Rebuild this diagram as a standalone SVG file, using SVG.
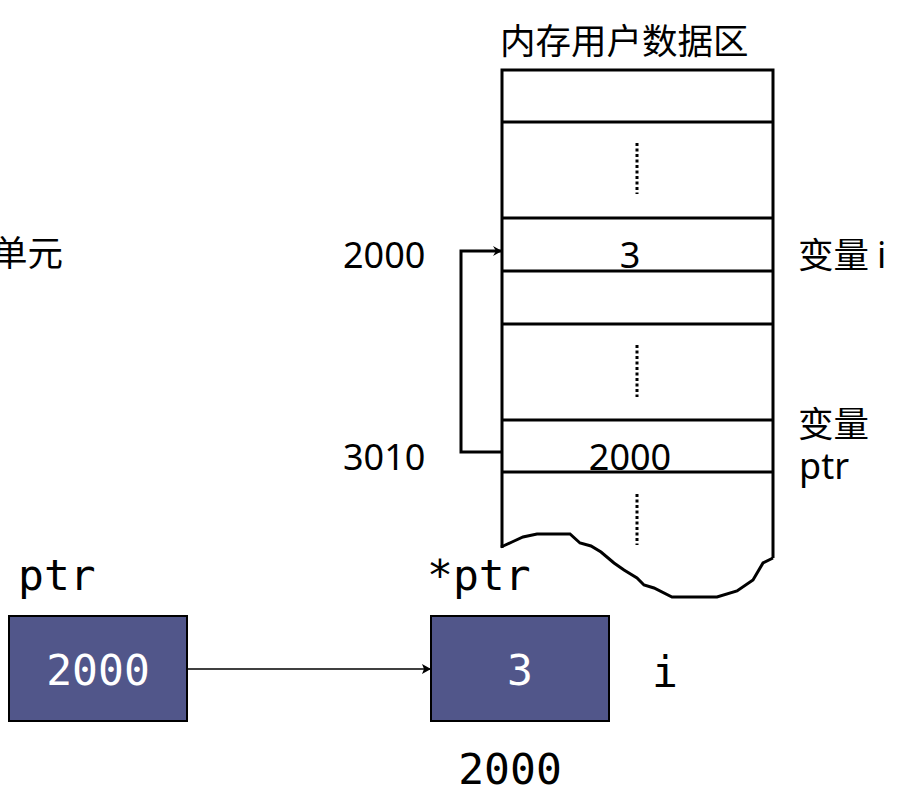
<svg xmlns="http://www.w3.org/2000/svg" width="899" height="810" viewBox="0 0 899 810">
<style>
.ln{stroke:#000;stroke-width:3;fill:none}
.dot{stroke:#000;stroke-width:3;stroke-dasharray:3 2.5;fill:none}
.sans{font-family:"Noto Sans","Open Sans","Noto Sans CJK SC",sans-serif;font-size:36px;fill:#000}
.cjk{font-family:"Noto Sans CJK SC","Noto Sans",sans-serif;font-size:35.5px;fill:#000}
.mono{font-family:"DejaVu Sans Mono","Liberation Mono",monospace;font-size:43px;fill:#000}
.box{fill:#51568A;stroke:#000;stroke-width:2}
</style>
<defs>
<marker id="ah" markerWidth="10" markerHeight="10" refX="8" refY="5" orient="auto" markerUnits="userSpaceOnUse">
<path d="M0,0 L9,5 L0,10 L3,5 Z" fill="#000"/>
</marker>
<marker id="ah2" markerWidth="10" markerHeight="10" refX="8" refY="5" orient="auto" markerUnits="userSpaceOnUse">
<path d="M0,0 L9,5 L0,10 L2,5 Z" fill="#000"/>
</marker>
</defs>
<rect width="899" height="810" fill="#fff"/>

<g id="memory">
<text class="cjk" x="500" y="54">内存用户数据区</text>
<path class="ln" d="M502,548 V70 H773 V558"/>
<path class="ln" d="M502,122 H773 M502,218 H773 M502,271 H773 M502,324 H773 M502,420 H773 M502,472 H773"/>
<path class="ln" d="M501,547 L512,542 L523,537 L537,534 L570,534 L580,543 L591,546 L601,552 L614,563 L624,570 L637,578 L644,585 L654,588 L672,597 L717,597 L737,591 L753,580 L763,563 L773,558"/>
<path class="dot" d="M637,143 V194 M637,345 V397 M637,494 V545"/>
</g>

<g id="cell-i">
<text class="sans" x="630" y="268" text-anchor="middle">3</text>
<text class="sans" x="343" y="268">2000</text>
<text class="cjk" x="798" y="268">变量 <tspan class="sans">i</tspan></text>
</g>

<g id="cell-ptr">
<text class="sans" x="630" y="470" text-anchor="middle">2000</text>
<text class="sans" x="343" y="470">3010</text>
<text class="cjk" x="798" y="437">变量</text>
<text class="sans" x="799" y="479">ptr</text>
</g>

<g id="label-unit">
<text class="cjk" x="-8" y="266">单元</text>
</g>

<g id="node-ptr">
<text class="mono" x="18" y="590">ptr</text>
<rect class="box" x="9" y="616" width="178" height="105"/>
<text class="mono" x="98" y="685" text-anchor="middle" style="fill:#fff">2000</text>
</g>

<g id="node-i">
<text class="mono" x="427" y="590">*ptr</text>
<rect class="box" x="431" y="616" width="178" height="105"/>
<text class="mono" x="520" y="685" text-anchor="middle" style="fill:#fff">3</text>
<text class="mono" x="665" y="687" text-anchor="middle">i</text>
<text class="mono" x="510" y="784" text-anchor="middle">2000</text>
</g>

<g id="connectors">
<path class="ln" d="M502,452 H461 V251 H501" marker-end="url(#ah)"/>
<path d="M187,669 H430" stroke="#000" stroke-width="1.5" fill="none" marker-end="url(#ah2)"/>
</g>
</svg>
